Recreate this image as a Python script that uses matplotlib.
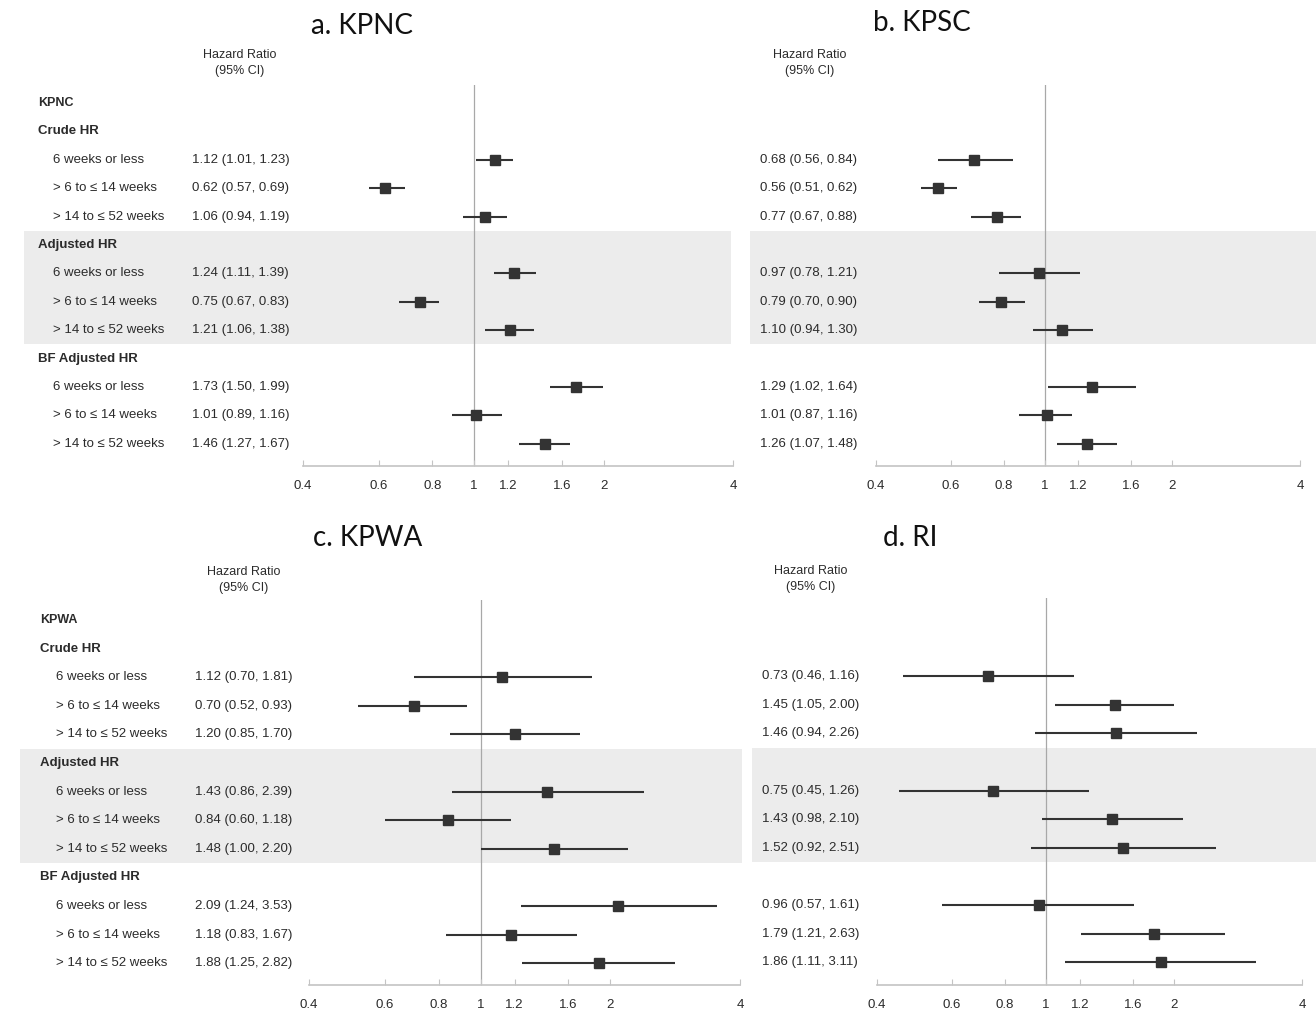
import matplotlib
matplotlib.use("Agg")
import matplotlib.pyplot as plt
from matplotlib.patches import Rectangle
from matplotlib.ticker import FixedLocator, FixedFormatter, NullLocator

plt.rcParams['font.family'] = ['Liberation Sans', 'DejaVu Sans']

# ---------------- data ----------------
group_names = ["Crude HR", "Adjusted HR", "BF Adjusted HR"]
period_labels = ["6 weeks or less", "> 6 to \u2264 14 weeks", "> 14 to \u2264 52 weeks"]
tick_values = [0.4, 0.6, 0.8, 1, 1.2, 1.6, 2, 4]
tick_labels = ["0.4", "0.6", "0.8", "1", "1.2", "1.6", "2", "4"]
panel_titles = ["a. KPNC", "b. KPSC", "c. KPWA", "d. RI"]
site_names = ["KPNC", "KPSC", "KPWA", "RI"]

kpnc_hr = [1.12, 0.62, 1.06, 1.24, 0.75, 1.21, 1.73, 1.01, 1.46]
kpnc_lo = [1.01, 0.57, 0.94, 1.11, 0.67, 1.06, 1.50, 0.89, 1.27]
kpnc_hi = [1.23, 0.69, 1.19, 1.39, 0.83, 1.38, 1.99, 1.16, 1.67]

kpsc_hr = [0.68, 0.56, 0.77, 0.97, 0.79, 1.10, 1.29, 1.01, 1.26]
kpsc_lo = [0.56, 0.51, 0.67, 0.78, 0.70, 0.94, 1.02, 0.87, 1.07]
kpsc_hi = [0.84, 0.62, 0.88, 1.21, 0.90, 1.30, 1.64, 1.16, 1.48]

kpwa_hr = [1.12, 0.70, 1.20, 1.43, 0.84, 1.48, 2.09, 1.18, 1.88]
kpwa_lo = [0.70, 0.52, 0.85, 0.86, 0.60, 1.00, 1.24, 0.83, 1.25]
kpwa_hi = [1.81, 0.93, 1.70, 2.39, 1.18, 2.20, 3.53, 1.67, 2.82]

ri_hr = [0.73, 1.45, 1.46, 0.75, 1.43, 1.52, 0.96, 1.79, 1.86]
ri_lo = [0.46, 1.05, 0.94, 0.45, 0.98, 0.92, 0.57, 1.21, 1.11]
ri_hi = [1.16, 2.00, 2.26, 1.26, 2.10, 2.51, 1.61, 2.63, 3.11]

# ---------------- layout (pixels) ----------------
W, H = 1316, 1014
fig = plt.figure(figsize=(W / 100, H / 100), dpi=100)
fig.patch.set_facecolor("white")

TXT = "#2b2b2b"

panels = [
    dict(title=panel_titles[0], site=site_names[0], hr=kpnc_hr, lo=kpnc_lo, hi=kpnc_hi,
         x0=303, x1=733, ytop=85, yaxis=466, row0=103, step=28.4,
         title_x=362, title_y=26, hdr_x=240, hdr_y=55, lab_x=38, item_x=53, ci_x=192,
         band=(24, 731), labels=True),
    dict(title=panel_titles[1], site=site_names[1], hr=kpsc_hr, lo=kpsc_lo, hi=kpsc_hi,
         x0=876, x1=1300, ytop=85, yaxis=466, row0=103, step=28.4,
         title_x=922, title_y=23, hdr_x=810, hdr_y=55, lab_x=None, item_x=None, ci_x=760,
         band=(750, 1316), labels=False),
    dict(title=panel_titles[2], site=site_names[2], hr=kpwa_hr, lo=kpwa_lo, hi=kpwa_hi,
         x0=309, x1=740, ytop=600, yaxis=985, row0=620, step=28.6,
         title_x=368, title_y=538, hdr_x=244, hdr_y=572, lab_x=40, item_x=56, ci_x=195,
         band=(20, 742), labels=True),
    dict(title=panel_titles[3], site=site_names[3], hr=ri_hr, lo=ri_lo, hi=ri_hi,
         x0=877, x1=1302, ytop=598, yaxis=985, row0=619, step=28.6,
         title_x=910, title_y=538, hdr_x=811, hdr_y=571, lab_x=None, item_x=None, ci_x=762,
         band=(752, 1316), labels=False),
]


def fx(px):
    return px / W


def fy(py):
    return 1 - py / H


for p in panels:
    r0, st = p["row0"], p["step"]
    # shaded band around the adjusted group (rows 5..8)
    by0 = r0 + st * 4.5
    by1 = r0 + st * 8.5
    fig.patches.append(Rectangle((fx(p["band"][0]), fy(by1)),
                                 fx(p["band"][1]) - fx(p["band"][0]),
                                 fy(by0) - fy(by1),
                                 transform=fig.transFigure, facecolor="#ececec",
                                 edgecolor="none", zorder=-5))

    ax = fig.add_axes([fx(p["x0"]), fy(p["yaxis"]), fx(p["x1"]) - fx(p["x0"]),
                       fy(p["ytop"]) - fy(p["yaxis"])])
    ax.set_zorder(2)
    ax.set_facecolor("none")
    ax.set_xscale("log")
    ax.set_xlim(0.4, 4)
    ax.set_ylim((p["yaxis"] - r0) / st, (p["ytop"] - r0) / st)
    for s in ["top", "left", "right"]:
        ax.spines[s].set_visible(False)
    ax.spines["bottom"].set_color("#c4c4c4")
    ax.spines["bottom"].set_linewidth(1.2)
    ax.xaxis.set_major_locator(FixedLocator(tick_values))
    ax.xaxis.set_major_formatter(FixedFormatter(tick_labels))
    ax.xaxis.set_minor_locator(NullLocator())
    ax.tick_params(axis="x", direction="in", length=4, color="#c4c4c4", pad=10,
                   labelsize=9.5, labelcolor=TXT)
    ax.set_yticks([])
    ax.axvline(1, color="#a8a8a8", lw=0.9, zorder=1)

    # data rows: row indices 2,3,4 / 6,7,8 / 10,11,12
    rows = [2, 3, 4, 6, 7, 8, 10, 11, 12]
    for i, ry in enumerate(rows):
        ax.plot([p["lo"][i], p["hi"][i]], [ry, ry], color="#333333", lw=1.5, zorder=3,
                solid_capstyle="butt")
        ax.plot([p["hr"][i]], [ry], marker="s", ms=7.5, color="#333333", zorder=4)
        fig.text(fx(p["ci_x"]), fy(r0 + st * ry),
                 f"{p['hr'][i]:.2f} ({p['lo'][i]:.2f}, {p['hi'][i]:.2f})",
                 ha="left", va="center", fontsize=9.5, color=TXT)

    if p["labels"]:
        fig.text(fx(p["lab_x"]), fy(r0), p["site"], ha="left", va="center",
                 fontsize=9, fontweight="bold", color=TXT)
        for g, gname in enumerate(group_names):
            gy = 1 + 4 * g
            fig.text(fx(p["lab_x"]), fy(r0 + st * gy), gname, ha="left", va="center",
                     fontsize=9.5, fontweight="bold", color=TXT)
            for k, lab in enumerate(period_labels):
                fig.text(fx(p["item_x"]), fy(r0 + st * (gy + 1 + k)), lab, ha="left",
                         va="center", fontsize=9.5, color=TXT)

    fig.text(fx(p["hdr_x"]), fy(p["hdr_y"]), "Hazard Ratio", ha="center", va="center",
             fontsize=9, color=TXT)
    fig.text(fx(p["hdr_x"]), fy(p["hdr_y"] + 16), "(95% CI)", ha="center", va="center",
             fontsize=9, color=TXT)
    fig.text(fx(p["title_x"]), fy(p["title_y"]), p["title"], ha="center", va="center",
             fontsize=20, color="#111111", family=["Lato", "DejaVu Sans"])

fig.savefig("out.png", dpi=100, facecolor="white")
